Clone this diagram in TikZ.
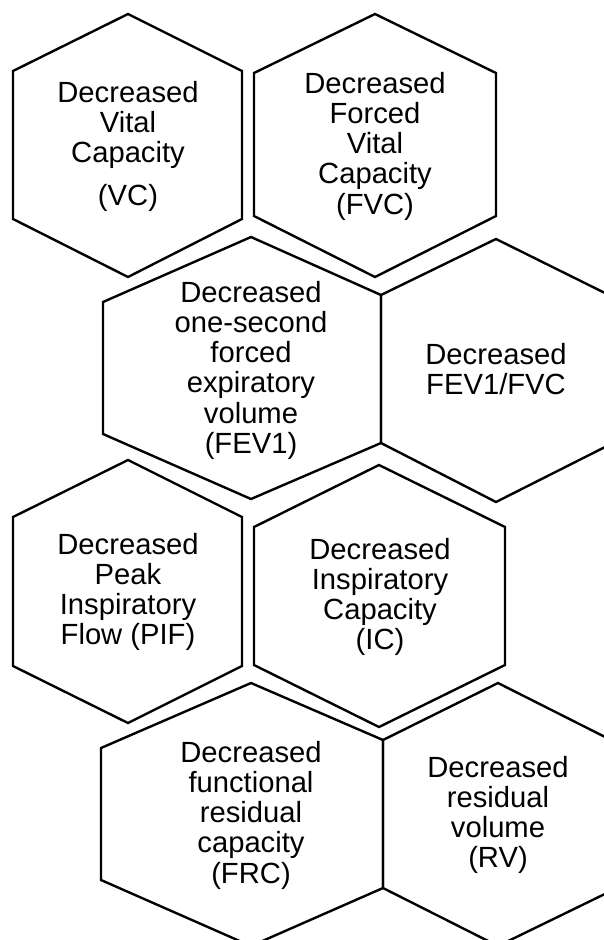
\documentclass[tikz,border=0pt]{standalone}
\usepackage{fontspec}
\setmainfont{Liberation Sans}
\begin{document}
\begin{tikzpicture}[x=1pt,y=-1pt,
  hexline/.style={draw=black, line width=2.4pt, line join=miter},
  lbl/.style={anchor=base, inner sep=0pt, font=\fontsize{29.2}{30.3}\selectfont}]
\useasboundingbox (0,0) rectangle (604,940);
\clip (0,0) rectangle (604,940);
% hexagons
\draw[hexline] (128,14) -- (242,71) -- (242,219) -- (128,277) -- (13,219) -- (13,71) -- cycle;
\draw[hexline] (375,14) -- (496,73) -- (496,216) -- (375,277) -- (254,216) -- (254,73) -- cycle;
\draw[hexline] (251,237) -- (381,295) -- (381,443) -- (251,499) -- (103,434) -- (103,302) -- cycle;
\draw[hexline] (496,239) -- (611,296) -- (611,444) -- (496,502) -- (381,443) -- (381,295) -- cycle;
\draw[hexline] (128,460) -- (242,517) -- (242,666) -- (128,723) -- (13,666) -- (13,517) -- cycle;
\draw[hexline] (379,465) -- (505,527) -- (505,665) -- (379,727) -- (254,665) -- (254,527) -- cycle;
\draw[hexline] (251,683) -- (383,740) -- (383,888) -- (251,946) -- (101,880) -- (101,748) -- cycle;
\draw[hexline] (498,683) -- (613,741) -- (613,890) -- (498,946) -- (383,888) -- (383,740) -- cycle;
% labels
\node[lbl] (vc) at (128,102) {\begin{tabular}[t]{@{}c@{}}Decreased\\Vital\\Capacity\\[13pt](VC)\end{tabular}};
\node[lbl] (fvc) at (375,93) {\begin{tabular}[t]{@{}c@{}}Decreased\\Forced\\Vital\\Capacity\\(FVC)\end{tabular}};
\node[lbl] (fev) at (251,302) {\begin{tabular}[t]{@{}c@{}}Decreased\\one-second\\forced\\expiratory\\volume\\(FEV1)\end{tabular}};
\node[lbl] (ratio) at (496,364) {\begin{tabular}[t]{@{}c@{}}Decreased\\FEV1/FVC\end{tabular}};
\node[lbl] (pif) at (128,554) {\begin{tabular}[t]{@{}c@{}}Decreased\\Peak\\Inspiratory\\Flow (PIF)\end{tabular}};
\node[lbl] (ic) at (380,559) {\begin{tabular}[t]{@{}c@{}}Decreased\\Inspiratory\\Capacity\\(IC)\end{tabular}};
\node[lbl] (frc) at (251,762) {\begin{tabular}[t]{@{}c@{}}Decreased\\functional\\residual\\capacity\\(FRC)\end{tabular}};
\node[lbl] (rv) at (498,777) {\begin{tabular}[t]{@{}c@{}}Decreased\\residual\\volume\\(RV)\end{tabular}};
\end{tikzpicture}
\end{document}
